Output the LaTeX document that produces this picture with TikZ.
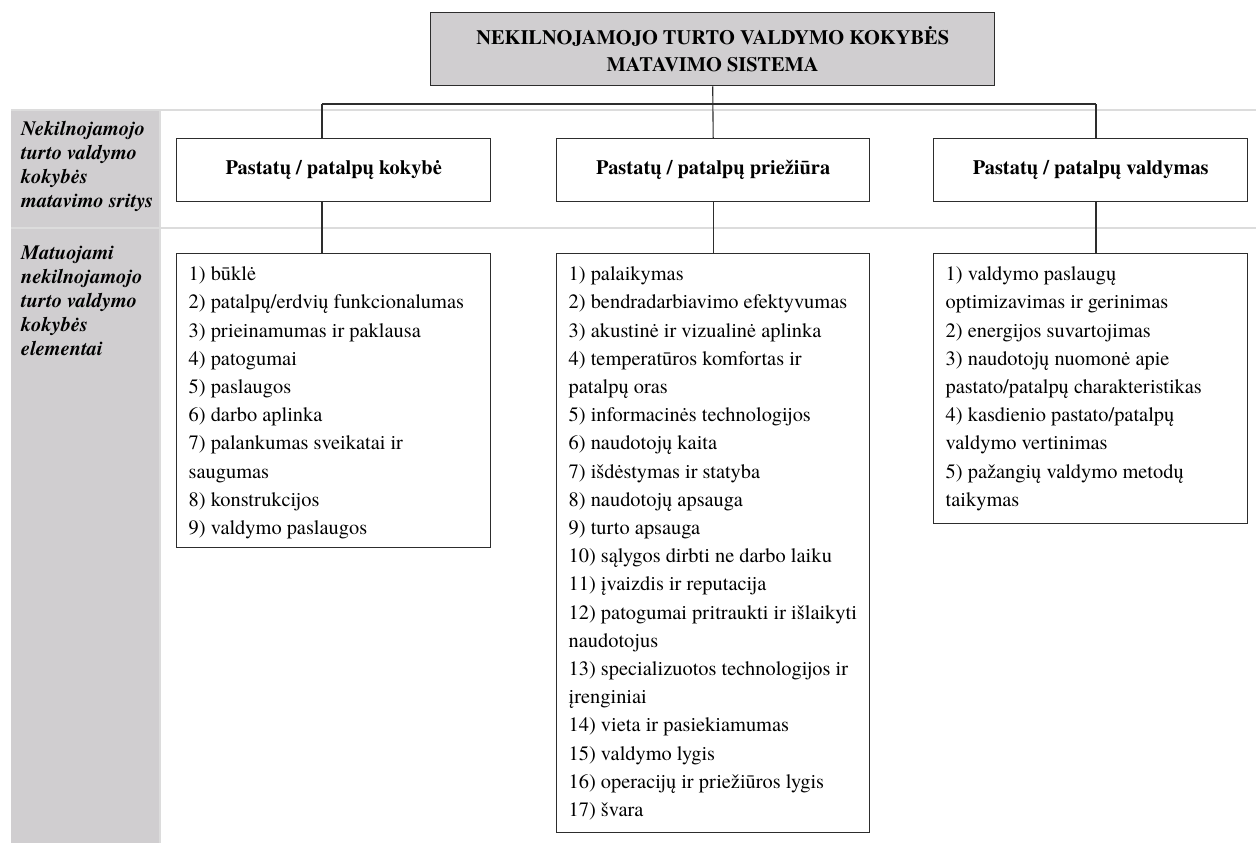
\documentclass[tikz,border=0pt]{standalone}
\usepackage{fontspec}
\setmainfont{texgyretermes}[Extension=.otf, UprightFont=*-regular, BoldFont=*-bold, ItalicFont=*-italic, BoldItalicFont=*-bolditalic]
\definecolor{cellgray}{RGB}{208,206,208}
\definecolor{sepgray}{RGB}{220,220,220}
\definecolor{edgec}{RGB}{45,45,45}
\newcommand{\mylist}[3]{\parbox[c][#1][t]{#2}{\fontsize{20.4pt}{28.2pt}\selectfont\raggedright\leftskip=12pt\parindent=0pt\rule{0pt}{27pt}#3}}
\newcommand{\mycell}[3]{\parbox[c][#1][t]{149pt}{\fontsize{20.4pt}{24pt}\selectfont\bfseries\itshape\raggedright\leftskip=10pt\parindent=0pt\rule{0pt}{#2}#3}}
\tikzset{
  box/.style={draw=edgec, line width=1.4pt, inner sep=0pt, anchor=north west},
  headbox/.style={box, minimum width=314pt, minimum height=63pt, align=center, font=\fontsize{20.4pt}{24pt}\selectfont\bfseries},
  conn/.style={draw=edgec, line width=1.1pt},
  sepline/.style={draw=sepgray, line width=1.5pt},
  cellbox/.style={fill=cellgray, inner sep=0pt, anchor=north west, minimum width=149pt},
}
\begin{document}
\begin{tikzpicture}[x=1pt,y=-1pt]
\useasboundingbox (0,0) rectangle (1256,843);
% left column cells
\node[cellbox, minimum height=118pt] (c1) at (11,110) {\mycell{118pt}{25pt}{Nekilnojamojo\\turto valdymo\\kokybės\\matavimo sritys}};
\node[cellbox, minimum height=615pt] (c2) at (11,228) {\mycell{615pt}{31pt}{Matuojami\\nekilnojamojo\\turto valdymo\\kokybės\\elementai}};
% separators
\coordinate (s1a) at (11,110); \coordinate (s1b) at (1256,110);
\coordinate (s2a) at (11,228); \coordinate (s2b) at (1256,228);
\coordinate (v1a) at (160,110); \coordinate (v1b) at (160,843);
\draw[sepline] (s1a) -- (s1b);
\draw[sepline] (s2a) -- (s2b);
\draw[sepline] (v1a) -- (v1b);
% title
\node[box, fill=cellgray, minimum width=564pt, minimum height=73pt, align=center, font=\fontsize{20.4pt}{27pt}\selectfont\bfseries] (top) at (430,12) {NEKILNOJAMOJO TURTO VALDYMO KOKYBĖS\\MATAVIMO SISTEMA};
% level 1
\node[headbox] (b1) at (176,138) {Pastatų / patalpų kokybė};
\node[headbox, minimum width=313pt] (b2) at (556,138) {Pastatų / patalpų priežiūra};
\node[headbox] (b3) at (933,138) {Pastatų / patalpų valdymas};
% level 2
\node[box] (l1) at (176,253) {\mylist{294pt}{314pt}{1) būklė\\2) patalpų/erdvių funkcionalumas\\3) prieinamumas ir paklausa\\4) patogumai\\5) paslaugos\\6) darbo aplinka\\7) palankumas sveikatai ir\\saugumas\\8) konstrukcijos\\9) valdymo paslaugos}};
\node[box] (l2) at (556,253) {\mylist{579pt}{313pt}{1) palaikymas\\2) bendradarbiavimo efektyvumas\\3) akustinė ir vizualinė aplinka\\4) temperatūros komfortas ir\\patalpų oras\\5) informacinės technologijos\\6) naudotojų kaita\\7) išdėstymas ir statyba\\8) naudotojų apsauga\\9) turto apsauga\\10) sąlygos dirbti ne darbo laiku\\11) įvaizdis ir reputacija\\12) patogumai pritraukti ir išlaikyti\\naudotojus\\13) specializuotos technologijos ir\\įrenginiai\\14) vieta ir pasiekiamumas\\15) valdymo lygis\\16) operacijų ir priežiūros lygis\\17) švara}};
\node[box] (l3) at (933,253) {\mylist{270pt}{314pt}{1) valdymo paslaugų\\optimizavimas ir gerinimas\\2) energijos suvartojimas\\3) naudotojų nuomonė apie\\pastato/patalpų charakteristikas\\4) kasdienio pastato/patalpų\\valdymo vertinimas\\5) pažangių valdymo metodų\\taikymas}};
% connectors
\coordinate (j1) at (322,104);
\coordinate (j3) at (1096,104);
\draw[conn] (top.south) -- (b2.north);
\draw[conn] (j1) -- (j3);
\draw[conn] (j1) -- (j1 |- b1.north);
\draw[conn] (j3) -- (j3 |- b3.north);
\draw[conn] (j1 |- b1.south) -- (j1 |- l1.north);
\draw[conn] (b2.south) -- (l2.north);
\draw[conn] (j3 |- b3.south) -- (j3 |- l3.north);
\end{tikzpicture}
\end{document}
